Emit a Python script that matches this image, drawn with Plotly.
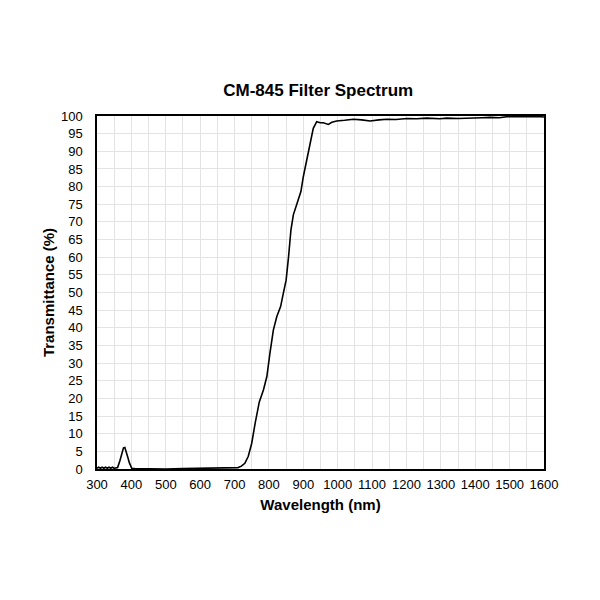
import plotly.graph_objects as go

# transmission curve
wavelength = [300, 305, 310, 315, 320, 325, 330, 335, 340, 345, 350, 355, 360,
              367, 372, 377, 381, 386, 390, 394, 401, 410, 450, 500, 550, 600,
              650, 680, 700, 710, 720, 730, 740, 750, 760, 772, 784, 794, 803,
              813, 823, 834, 842, 850, 857, 864, 871, 881, 888, 893, 900, 910,
              920, 929, 939, 949, 958, 973, 983, 997, 1020, 1046, 1070, 1094,
              1120, 1143, 1170, 1201, 1230, 1259, 1297, 1317, 1350, 1385, 1420,
              1443, 1470, 1492, 1520, 1550, 1589, 1600]
transmittance = [0.2, 0.5, 0.2, 0.5, 0.2, 0.5, 0.2, 0.5, 0.2, 0.5, 0.2, 0.4, 0.4,
                 2.5, 4.6, 6.0, 6.1, 4.0, 3.2, 1.8, 0.2, 0.1, 0.0, 0.0, 0.1, 0.2,
                 0.4, 0.3, 0.3, 0.4, 0.8, 1.6, 3.6, 7.3, 13.0, 19.0, 22.4, 26.2, 32.8,
                 39.4, 43.2, 46.0, 49.8, 53.5, 60.0, 67.7, 72.0, 75.3, 77.6, 78.6, 82.8, 87.5,
                 92.3, 96.5, 98.4, 98.1, 98.1, 97.6, 98.2, 98.6, 98.8, 99.1, 98.9, 98.6,
                 98.9, 99.1, 99.0, 99.3, 99.2, 99.4, 99.2, 99.4, 99.3, 99.3, 99.5,
                 99.6, 99.5, 99.8, 99.7, 99.8, 99.8, 99.7]

fig = go.Figure()
fig.add_trace(go.Scatter(x=wavelength, y=transmittance, mode='lines',
                         line=dict(color='black', width=1.6)))

# page body adds 8px, so margins are shifted to land the plot where the reference has it
fig.update_layout(
    width=600, height=600,
    margin=dict(l=89, r=64, t=108, b=139),
    paper_bgcolor='white', plot_bgcolor='white',
    font=dict(family='Liberation Sans, Arial', color='black', size=13),
    title=dict(text='<b>CM-845 Filter Spectrum</b>', x=0.517, xanchor='center',
               y=0.863, yanchor='middle', font=dict(size=17)),
    showlegend=False,
)
fig.update_xaxes(range=[300, 1600], dtick=100, tick0=300,
                 showgrid=True, gridcolor='#e3e3e3', gridwidth=1,
                 minor=dict(dtick=50, showgrid=True, gridcolor='#e3e3e3'),
                 showline=True, linecolor='black', linewidth=1.5, mirror=True,
                 ticks='', zeroline=False, ticklabelstandoff=3,
                 title=dict(text='<b>Wavelength (nm)</b>', font=dict(size=15), standoff=8))
fig.update_yaxes(range=[0, 100], dtick=5,
                 showgrid=True, gridcolor='#e3e3e3', gridwidth=1,
                 showline=True, linecolor='black', linewidth=1.5, mirror=True,
                 ticks='', zeroline=False, ticklabelstandoff=10,
                 title=dict(text='<b>Transmittance (%)</b>', font=dict(size=15), standoff=3))

fig.write_html("out.html")
